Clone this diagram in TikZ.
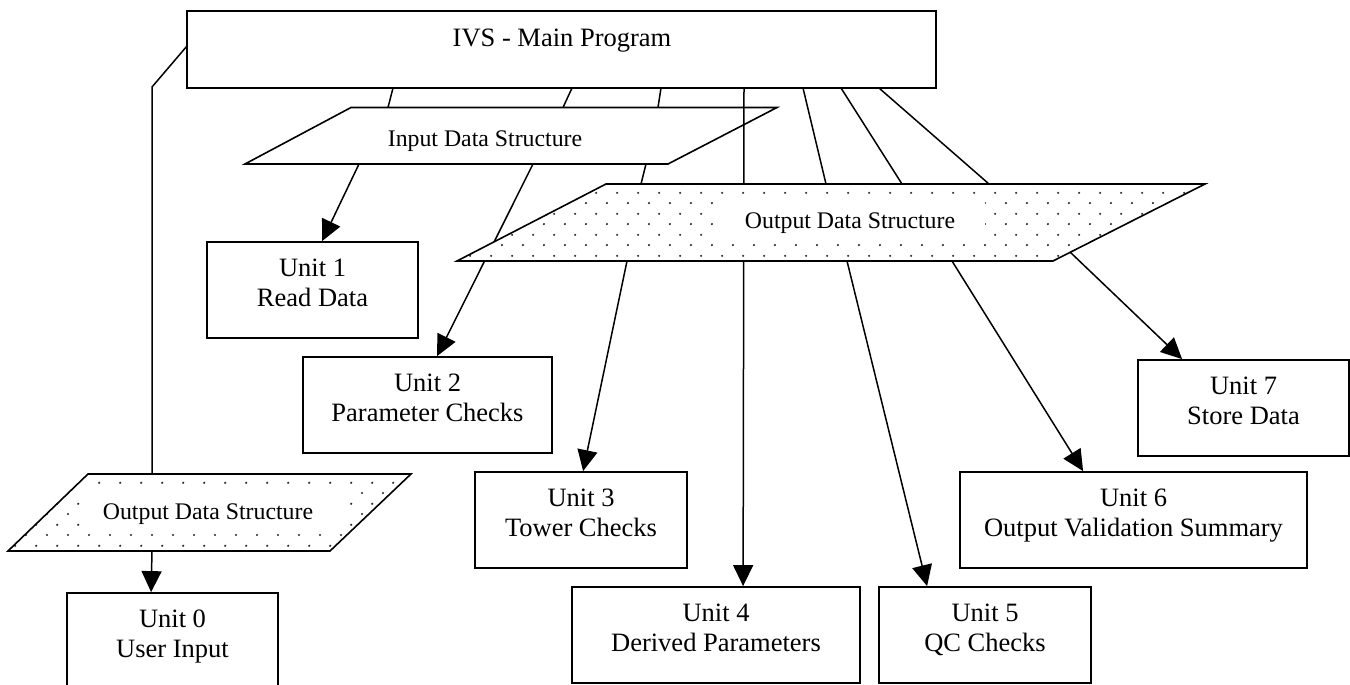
\documentclass[tikz,border=0pt]{standalone}
\usepackage{fontspec}
\setmainfont{Liberation Serif}
\usetikzlibrary{arrows.meta,patterns,calc}
\pgfdeclarepatternformonly{wdots}{\pgfqpoint{0pt}{0pt}}{\pgfqpoint{20.7pt}{20.7pt}}{\pgfqpoint{20.7pt}{20.7pt}}{%
  \pgfpathcircle{\pgfqpoint{5pt}{5pt}}{1.15pt}%
  \pgfpathcircle{\pgfqpoint{15.35pt}{15.35pt}}{1.15pt}%
  \pgfusepath{fill}}
\begin{document}
\begin{tikzpicture}[x=1pt,y=-1pt,
  box/.style={draw,line width=1.8pt,fill=white,rectangle,inner sep=0pt},
  conn/.style={line width=1.5pt},
  arr/.style={conn,-{Triangle[length=21pt,width=20pt]}},
  ut/.style={font=\fontsize{26.5pt}{30pt}\selectfont,anchor=base,inner sep=0pt},
  dt/.style={font=\fontsize{23.8pt}{28pt}\selectfont,anchor=base,inner sep=0pt},
  dsline/.style={line width=1.6pt,line join=miter},
  dotfill/.style={pattern=wdots,pattern color=black!85}
]
\useasboundingbox (0,0) rectangle (1350,685);

% Main program
\node[box,minimum width=749pt,minimum height=77pt] (main) at (561.5,49.5) {};
\node[ut] (maint) at (562,47) {IVS - Main Program};

% Input data structure
\coordinate (iTL) at (351,107.5);
\coordinate (iTR) at (777,107.5);
\coordinate (iBR) at (668,164);
\coordinate (iBL) at (245,164);
\filldraw[dsline,fill=white] (iTL) -- (iTR) -- (iBR) -- (iBL) -- cycle;
\node[dt] (ids) at (485,146) {Input Data Structure};

% connectors main -> input DS
\coordinate (m1) at (393,88);  \coordinate (i1) at (388,107.5);
\coordinate (m2) at (572,88);  \coordinate (i2) at (563,107.5);
\coordinate (m3) at (661,88);  \coordinate (i3) at (658,107.5);
\draw[conn] (m1) -- (i1);
\draw[conn] (m2) -- (i2);
\draw[conn] (m3) -- (i3);

% Units
\node[box,minimum width=211pt,minimum height=96pt] (u0) at (172.5,641) {};
\node[box,minimum width=211pt,minimum height=96pt] (u1) at (312.5,290) {};
\node[box,minimum width=249pt,minimum height=96pt] (u2) at (427.5,405) {};
\node[box,minimum width=212pt,minimum height=96pt] (u3) at (581,520) {};
\node[box,minimum width=288pt,minimum height=96pt] (u4) at (716,635) {};
\node[box,minimum width=212pt,minimum height=96pt] (u5) at (985,635) {};
\node[box,minimum width=347pt,minimum height=96pt] (u6) at (1133.5,520) {};
\node[box,minimum width=211pt,minimum height=96pt] (u7) at (1243.5,408) {};

\foreach \u/\a/\b in {u0/Unit 0/User Input, u1/Unit 1/Read Data, u2/Unit 2/Parameter Checks,
  u3/Unit 3/Tower Checks, u4/Unit 4/Derived Parameters, u5/Unit 5/QC Checks,
  u6/Unit 6/Output Validation Summary, u7/Unit 7/Store Data}{
  \node[ut] (\u a) at ($(\u.north)+(0,35)$) {\a};
  \node[ut] (\u b) at ($(\u.north)+(0,65)$) {\b};
}

% lines passing under the output DS
\coordinate (m4) at (744,88);
\coordinate (s2) at (533,164);
\coordinate (s3) at (646,164);
\draw[arr] (m4) -- ([xshift=172pt]u4.north west);
\draw[arr] (s2) -- ([xshift=135pt]u2.north west);
\draw[conn] (s3) -- (641,184);

% Input DS -> Unit 1
\coordinate (s1) at (359,164);
\draw[arr] (s1) -- ([xshift=116pt]u1.north west);

% main -> output DS
\coordinate (m5) at (803,88); \coordinate (o5) at (826,184);
\coordinate (m6) at (841,88); \coordinate (o6) at (902,184);
\coordinate (m7) at (879,88); \coordinate (o7) at (989,184);
\draw[conn] (m5) -- (o5);
\draw[conn] (m6) -- (o6);
\draw[conn] (m7) -- (o7);

% Output data structure (big)
\coordinate (oTL) at (606,184);
\coordinate (oTR) at (1205,184);
\coordinate (oBR) at (1053,261);
\coordinate (oBL) at (457,261);
\fill[white] (oTL) -- (oTR) -- (oBR) -- (oBL) -- cycle;
\fill[dotfill] (oTL) -- (oTR) -- (oBR) -- (oBL) -- cycle;
\fill[white] (716,199) rectangle (985,241);
\draw[dsline] (oTL) -- (oTR) -- (oBR) -- (oBL) -- cycle;
\node[dt] (ods) at (850,228) {Output Data Structure};

% Output DS -> units
\coordinate (r3) at (627,261);
\coordinate (r5) at (847,261);
\coordinate (r6) at (952,261);
\coordinate (r7) at (1070,252);
\draw[arr] (r3) -- ([xshift=109pt]u3.north west);
\draw[arr] (r5) -- ([xshift=49pt]u5.north west);
\draw[arr] (r6) -- ([xshift=124pt]u6.north west);
\draw[arr] (r7) -- ([xshift=45pt]u7.north west);

% Small output data structure
\coordinate (pTL) at (88,474);
\coordinate (pTR) at (411,474);
\coordinate (pBR) at (330,551);
\coordinate (pBL) at (8,551);
\fill[white] (pTL) -- (pTR) -- (pBR) -- (pBL) -- cycle;
\fill[dotfill] (pTL) -- (pTR) -- (pBR) -- (pBL) -- cycle;
\fill[white] (84,491) rectangle (344,532);
\draw[dsline] (pTL) -- (pTR) -- (pBR) -- (pBL) -- cycle;
\node[dt] (pds) at (208,519) {Output Data Structure};

% main -> small output DS -> Unit 0
\coordinate (m0) at (187,46);
\coordinate (k0) at (152,87);
\coordinate (p0) at (152,474);
\coordinate (q0) at (152,551);
\draw[conn] (m0) -- (k0) -- (p0);
\draw[arr] (q0) -- ([xshift=85pt]u0.north west);
\end{tikzpicture}
\end{document}
